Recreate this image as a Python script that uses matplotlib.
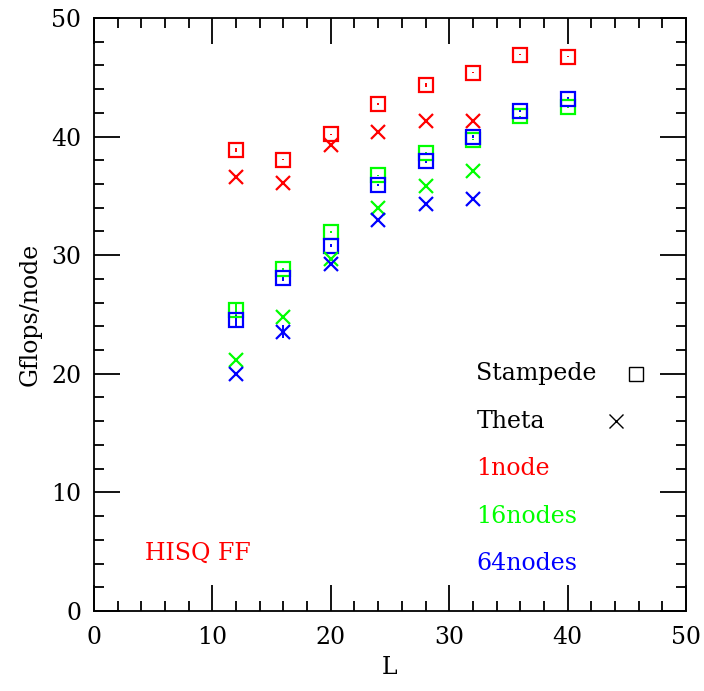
import numpy as np
import matplotlib
matplotlib.use("Agg")
import matplotlib.pyplot as plt
from matplotlib.ticker import MultipleLocator

plt.rcParams["font.family"] = ["DejaVu Serif"]

# lattice sizes
L_stampede = [12, 16, 20, 24, 28, 32, 36, 40]
L_theta = [12, 16, 20, 24, 28, 32]

# Stampede (squares), Gflops/node
st_1node = [38.85, 38.05, 40.2, 42.75, 44.35, 45.4, 46.9, 46.75]
st_16nodes = [25.4, 28.8, 31.95, 36.75, 38.6, 39.75, 41.7, 42.5]
st_64nodes = [24.5, 28.1, 30.8, 35.9, 37.95, 40.0, 42.15, 43.2]
st_1node_err = [0.15, 0.05, 0.05, 0.05, 0.15, 0.05, 0.05, 0.05]
st_16nodes_err = [0.55, 0.1, 0.05, 0.05, 0.1, 0.05, 0.05, 0.05]
st_64nodes_err = [0.48, 0.25, 0.15, 0.1, 0.15, 0.1, 0.1, 0.1]

# Theta (crosses), Gflops/node
th_1node = [36.55, 36.07, 39.3, 40.4, 41.35, 41.3]
th_16nodes = [21.2, 24.8, 29.7, 33.98, 35.8, 37.1]
th_64nodes = [19.97, 23.55, 29.27, 33.0, 34.35, 34.77]
th_1node_err = [0.0, 0.0, 0.0, 0.0, 0.0, 0.0]
th_16nodes_err = [0.0, 0.0, 0.0, 0.0, 0.0, 0.0]
th_64nodes_err = [0.05, 0.55, 0.1, 0.05, 0.05, 0.05]

colors = {"1node": "#ff0000", "16nodes": "#00ff00", "64nodes": "#0000ff"}

fig = plt.figure(figsize=(7.04, 6.91), dpi=100)
ax = fig.add_axes([0.1335, 0.1158, 0.8409, 0.8582])

ms = 10
mew = 1.6
series = [
    (L_stampede, st_1node, st_1node_err, "s", "1node"),
    (L_stampede, st_16nodes, st_16nodes_err, "s", "16nodes"),
    (L_stampede, st_64nodes, st_64nodes_err, "s", "64nodes"),
    (L_theta, th_1node, th_1node_err, "x", "1node"),
    (L_theta, th_16nodes, th_16nodes_err, "x", "16nodes"),
    (L_theta, th_64nodes, th_64nodes_err, "x", "64nodes"),
]
for x, y, e, m, key in series:
    c = colors[key]
    ax.errorbar(x, y, yerr=e, fmt=m, ms=ms, mew=mew, mfc="none", mec=c,
                ecolor=c, elinewidth=1.4, capsize=0)

# key in the lower right
fs = 17
ax.text(32.3, 20, "Stampede", fontsize=fs, va="center", ha="left")
ax.plot([45.8], [20], "s", ms=9.5, mfc="none", mec="black", mew=1.0)
ax.text(32.3, 16, "Theta", fontsize=fs, va="center", ha="left")
ax.plot([44.1], [16], "x", ms=9.5, mec="black", mew=1.0)
ax.text(32.3, 12, "1node", fontsize=fs, va="center", ha="left", color=colors["1node"])
ax.text(32.3, 8, "16nodes", fontsize=fs, va="center", ha="left", color=colors["16nodes"])
ax.text(32.3, 4, "64nodes", fontsize=fs, va="center", ha="left", color=colors["64nodes"])
ax.text(4.3, 4.9, "HISQ FF", fontsize=fs, va="center", ha="left", color=colors["1node"])

ax.set_xlim(0, 50)
ax.set_ylim(0, 50)
ax.xaxis.set_major_locator(MultipleLocator(10))
ax.xaxis.set_minor_locator(MultipleLocator(2))
ax.yaxis.set_major_locator(MultipleLocator(10))
ax.yaxis.set_minor_locator(MultipleLocator(2))
ax.tick_params(which="both", direction="in", top=True, right=True, width=1.3, labelsize=fs)
ax.tick_params(which="major", length=19)
ax.tick_params(which="minor", length=7)
ax.tick_params(axis="x", pad=11)
ax.tick_params(axis="y", pad=9)
for s in ax.spines.values():
    s.set_linewidth(1.3)

ax.set_xlabel("L", fontsize=fs, labelpad=5)
ax.set_ylabel("Gflops/node", fontsize=fs, labelpad=7)

fig.savefig("out.png", dpi=100)
